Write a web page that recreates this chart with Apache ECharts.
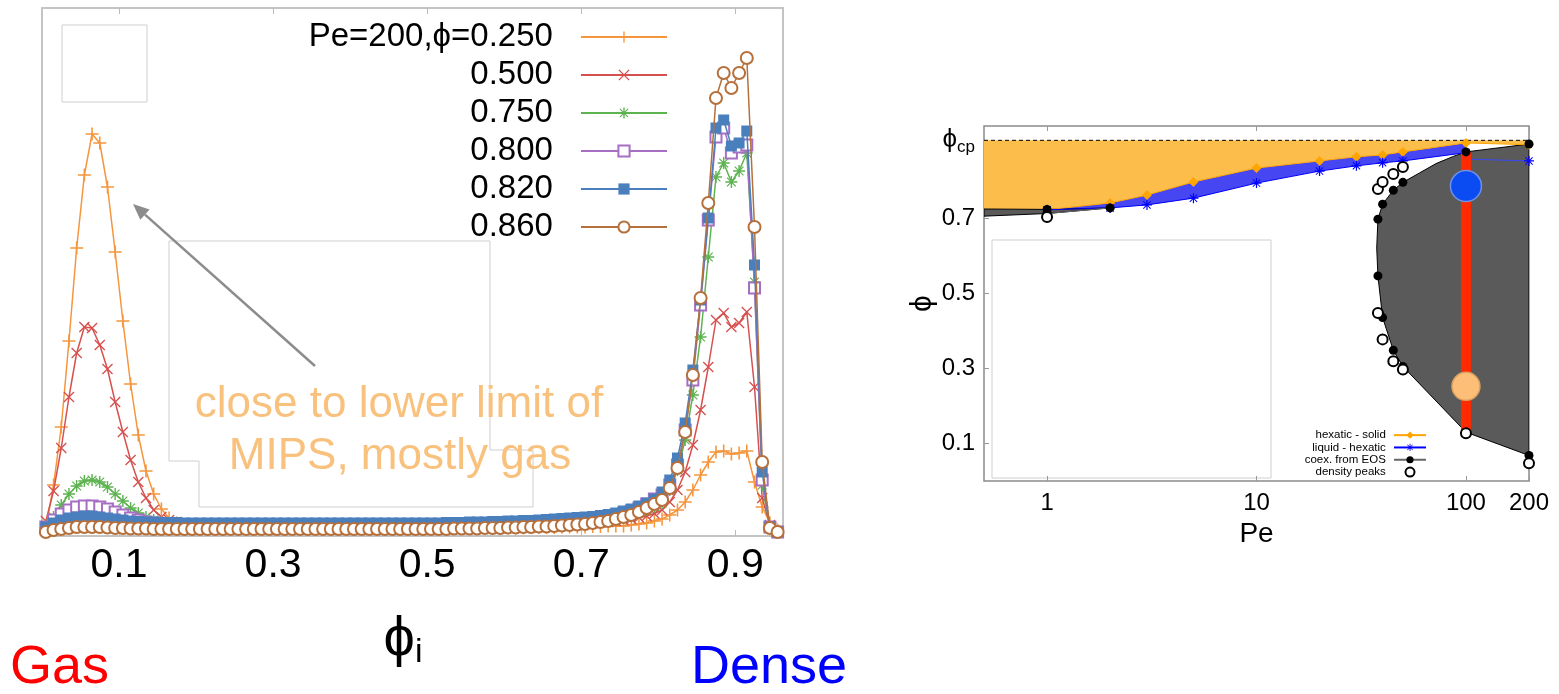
<!DOCTYPE html>
<html><head><meta charset="utf-8">
<script src="https://cdn.jsdelivr.net/npm/echarts@6/dist/echarts.min.js"></script>
<style>html,body{margin:0;padding:0;background:#fff}#c{width:1559px;height:694px}</style>
</head><body><div id="c"></div>
<script>
// ---------------- Left panel: distribution of local packing fraction ----------------
const phiBins = [0.005,0.015,0.025,0.035,0.045,0.055,0.065,0.075,0.085,0.095,
 0.105,0.115,0.125,0.135,0.145,0.155,0.165,0.175,0.185,0.195,
 0.205,0.215,0.225,0.235,0.245,0.255,0.265,0.275,0.285,0.295,
 0.305,0.315,0.325,0.335,0.345,0.355,0.365,0.375,0.385,0.395,
 0.405,0.415,0.425,0.435,0.445,0.455,0.465,0.475,0.485,0.495,
 0.505,0.515,0.525,0.535,0.545,0.555,0.565,0.575,0.585,0.595,
 0.605,0.615,0.625,0.635,0.645,0.655,0.665,0.675,0.685,0.695,
 0.705,0.715,0.725,0.735,0.745,0.755,0.765,0.775,0.785,0.795,
 0.805,0.815,0.825,0.835,0.845,0.855,0.865,0.875,0.885,0.895,
 0.905,0.915,0.925,0.935,0.945,0.955];
const seriesNames = ['Pe=200,ϕ=0.250','0.500','0.750','0.800','0.820','0.860'];
const p250 = [1.6,10.2,21.8,39.0,57.6,72.2,80.4,78.6,69.8,56.8,
 43.0,30.4,20.2,13.0,8.4,5.4,3.6,2.6,2.0,1.8,
 1.6,1.6,1.5,1.5,1.5,1.5,1.5,1.5,1.5,1.5,
 1.5,1.5,1.5,1.5,1.5,1.5,1.5,1.5,1.5,1.5,
 1.5,1.5,1.5,1.5,1.5,1.5,1.5,1.5,1.5,1.5,
 1.5,1.5,1.5,1.5,1.5,1.5,1.5,1.6,1.6,1.6,
 1.6,1.6,1.6,1.7,1.7,1.7,1.7,1.8,1.8,1.8,
 1.8,1.9,1.9,2.0,2.0,2.0,2.2,2.4,2.6,3.0,
 3.4,4.2,5.2,6.8,9.2,12.2,14.8,16.8,17.0,16.4,
 16.6,17.0,10.8,5.8,2.6,1.2];
const p500 = [3.0,9.0,17.6,27.8,36.6,41.8,41.6,38.2,33.4,26.8,
 20.8,15.2,10.8,7.6,5.2,3.8,3.2,2.8,2.5,2.3,
 2.2,2.1,2.0,2.0,2.0,1.9,1.9,1.9,1.9,1.9,
 1.9,1.9,1.9,1.9,1.9,1.9,1.9,1.9,1.9,1.9,
 1.9,1.9,1.9,1.9,1.9,1.9,1.9,1.9,1.9,1.9,
 1.9,1.9,1.9,2.0,2.0,2.0,2.0,2.0,2.1,2.1,
 2.1,2.1,2.2,2.2,2.2,2.3,2.3,2.4,2.4,2.5,
 2.5,2.6,2.7,2.8,3.0,3.2,3.4,3.7,4.0,4.5,
 5.2,6.8,9.2,12.8,18.2,25.2,33.8,43.2,44.6,41.8,
 42.6,44.8,29.8,7.6,2.2,0.8];
const p750 = [2.2,3.8,6.2,8.4,10.0,11.0,11.2,10.8,9.8,8.4,
 7.0,5.6,4.6,3.8,3.2,2.8,2.6,2.4,2.3,2.2,
 2.2,2.1,2.1,2.1,2.1,2.1,2.1,2.1,2.1,2.1,
 2.1,2.1,2.1,2.1,2.1,2.1,2.1,2.1,2.1,2.1,
 2.1,2.1,2.1,2.1,2.1,2.1,2.1,2.1,2.1,2.1,
 2.1,2.1,2.2,2.2,2.2,2.2,2.3,2.3,2.3,2.4,
 2.4,2.5,2.5,2.6,2.6,2.7,2.8,2.9,3.0,3.1,
 3.2,3.3,3.5,3.7,3.9,4.2,4.5,4.9,5.3,5.9,
 6.6,9.2,13.2,19.2,28.2,39.8,55.8,71.8,74.6,70.8,
 73.0,76.6,50.8,10.2,1.8,0.8];
const p800 = [1.8,3.2,4.4,5.2,5.8,6.0,6.0,5.8,5.4,4.8,
 4.2,3.6,3.2,2.8,2.6,2.4,2.3,2.3,2.2,2.2,
 2.2,2.2,2.2,2.2,2.2,2.2,2.2,2.2,2.2,2.2,
 2.2,2.2,2.2,2.2,2.2,2.2,2.2,2.2,2.2,2.2,
 2.2,2.2,2.2,2.2,2.2,2.2,2.2,2.2,2.2,2.2,
 2.2,2.2,2.3,2.3,2.3,2.4,2.4,2.4,2.5,2.5,
 2.6,2.6,2.7,2.7,2.8,2.9,3.0,3.1,3.2,3.3,
 3.4,3.5,3.7,3.9,4.2,4.6,5.0,5.6,6.4,7.4,
 8.2,10.2,14.2,21.2,31.2,46.2,63.2,79.8,81.6,76.6,
 77.8,78.2,49.6,11.2,1.8,0.8];
const p820 = [1.8,2.6,3.2,3.6,3.8,4.0,4.0,3.8,3.6,3.4,
 3.2,3.0,2.9,2.8,2.8,2.7,2.7,2.7,2.6,2.6,
 2.6,2.6,2.6,2.6,2.6,2.6,2.6,2.6,2.6,2.6,
 2.6,2.6,2.6,2.6,2.6,2.6,2.6,2.6,2.6,2.6,
 2.6,2.6,2.6,2.6,2.6,2.6,2.6,2.6,2.6,2.6,
 2.6,2.6,2.7,2.7,2.7,2.8,2.8,2.8,2.9,2.9,
 3.0,3.0,3.1,3.1,3.2,3.3,3.4,3.5,3.6,3.7,
 3.8,3.9,4.1,4.3,4.6,5.0,5.4,6.0,6.6,7.4,
 8.8,11.2,15.6,22.6,33.2,47.2,63.6,81.6,83.2,78.0,
 78.6,81.0,54.2,12.8,1.8,0.8];
const p860 = [0.8,1.2,1.4,1.6,1.8,1.8,1.8,1.8,1.7,1.6,
 1.6,1.5,1.5,1.5,1.4,1.4,1.4,1.4,1.4,1.4,
 1.4,1.4,1.4,1.4,1.4,1.4,1.4,1.4,1.4,1.4,
 1.4,1.4,1.4,1.4,1.4,1.4,1.4,1.4,1.4,1.4,
 1.4,1.4,1.4,1.4,1.4,1.4,1.4,1.4,1.4,1.4,
 1.4,1.4,1.4,1.5,1.5,1.5,1.5,1.6,1.6,1.6,
 1.7,1.7,1.8,1.8,1.9,1.9,2.0,2.1,2.2,2.3,
 2.4,2.6,2.8,3.0,3.4,3.8,4.2,4.8,5.6,6.4,
 7.2,9.6,13.6,20.8,32.2,47.6,66.6,87.6,92.6,89.6,
 92.6,95.6,61.8,14.8,1.6,0.8];
const leftTicks = [0.1,0.3,0.5,0.7,0.9];

// ---------------- Right panel: phase diagram ----------------
const phiCp = 0.9069;
const hsPe  = [1, 2, 3, 5, 10, 20, 30, 40, 50, 100, 200];
const hsPhi = [0.722, 0.740, 0.761, 0.796, 0.833, 0.852, 0.863, 0.868, 0.876, 0.900, 0.895];
const lhPe  = [1, 2, 3, 5, 10, 20, 30, 40, 50, 100];
const lhPhi = [0.722, 0.727, 0.735, 0.753, 0.793, 0.825, 0.839, 0.847, 0.852, 0.874];
const lhTailPe = [100, 200];
const lhTailPhi = [0.857, 0.852];
const coexLowPe  = [1, 1, 2];
const coexLowPhi = [0.723, 0.712, 0.727];
const coexPe  = [200, 100, 50, 45, 40, 38, 38, 40, 45, 50, 100, 200];
const coexPhi = [0.897, 0.876, 0.795, 0.774, 0.737, 0.697, 0.546, 0.435, 0.348, 0.305, 0.130, 0.068];
const peakPe  = [1, 38, 40, 45, 50, 38, 40, 45, 50, 100, 200];
const peakPhi = [0.703, 0.777, 0.796, 0.817, 0.836, 0.447, 0.377, 0.319, 0.297, 0.127, 0.047];
// boundary of the shaded regions
const lowBandPe  = [0.5, 1, 2, 1, 0.5];
const lowBandPhi = [0.724, 0.723, 0.727, 0.712, 0.705];
const mipsPe  = [200, 100, 87, 72, 60, 50, 45, 40, 38, 37.5, 38, 40, 45, 50, 100, 200];
const mipsPhi = [0.897, 0.876, 0.864, 0.845, 0.820, 0.795, 0.774, 0.737, 0.697, 0.620, 0.546, 0.435, 0.348, 0.305, 0.130, 0.068];
const barPe = [100, 100];
const barPhi = [0.130, 0.876];
const densePeak = [100, 0.785];
const gasPeak = [100, 0.252];
const peTicks = [1, 10, 100, 200];
const phiTicks = [0.1, 0.3, 0.5, 0.7, phiCp];

const FONT = "'Liberation Sans', Arial, 'DejaVu Sans', sans-serif";
const zip = (a, b) => a.map((v, i) => [v, b[i]]);

const PLUS = 'path://M0,4.4H10V5.6H0ZM4.4,0H5.6V10H4.4Z';
const CROSS = 'path://M0,0.85L0.85,0L10,9.15L9.15,10ZM9.15,0L10,0.85L0.85,10L0,9.15Z';
const STAR = 'path://M0,4.4H10V5.6H0ZM4.4,0H5.6V10H4.4ZM1,1.7L1.7,1L9,8.3L8.3,9ZM8.3,1L9,1.7L1.7,9L1,8.3Z';

const leftColors = ['#f5953c', '#d6504e', '#5db350', '#a66fc4', '#4a7fbd', '#b5703c'];
const leftData = [p250, p500, p750, p800, p820, p860];
const leftSymbols = [PLUS, CROSS, STAR, 'emptyRect', 'rect', 'emptyCircle'];
const leftSizes = [13, 11, 12, 11, 11, 12];

const series = [];
leftData.forEach((vals, k) => {
  const empty = leftSymbols[k].indexOf('empty') === 0;
  series.push({
    type: 'line', name: seriesNames[k], xAxisIndex: 0, yAxisIndex: 0,
    data: zip(phiBins, vals), symbol: leftSymbols[k], symbolSize: leftSizes[k],
    showAllSymbol: true, z: 3 + k,
    lineStyle: { color: leftColors[k], width: 1.5 },
    itemStyle: { color: leftColors[k], borderColor: leftColors[k], borderWidth: empty ? 1.3 : 0 }
  });
});

function region(pts, fill, stroke, z) {
  return {
    type: 'custom', coordinateSystem: 'cartesian2d', xAxisIndex: 2, yAxisIndex: 1,
    data: [[1, 0.5]], z: z, silent: true, clip: true,
    renderItem: (params, api) => ({
      type: 'polygon',
      shape: { points: pts.map(p => api.coord(p)) },
      style: { fill: fill, stroke: stroke || null, lineWidth: stroke ? 1 : 0 }
    })
  };
}
const hsTo100 = zip(hsPe, hsPhi).filter(p => p[0] <= 100);
const orangePts = [[0.5, phiCp], [200, phiCp]].concat(zip(hsPe, hsPhi).reverse(), [[0.5, lowBandPhi[0]]]);
const bluePts = hsTo100.concat(zip(lhPe, lhPhi).reverse());
series.push(region(orangePts, '#fcbd4a', null, 1));
series.push(region(bluePts, '#4646f2', null, 2));
series.push(region(zip(lowBandPe, lowBandPhi), '#5a5a5a', '#000', 2));
series.push(region(zip(mipsPe, mipsPhi), '#5a5a5a', '#000', 2));

series.push({
  type: 'line', xAxisIndex: 2, yAxisIndex: 1, data: [[0.5, phiCp], [200, phiCp]],
  symbol: 'none', z: 4, lineStyle: { color: '#000', width: 1, type: [4, 3] }
});
series.push({
  type: 'line', name: 'hexatic - solid', xAxisIndex: 2, yAxisIndex: 1, data: zip(hsPe, hsPhi),
  symbol: 'diamond', symbolSize: 10, z: 5,
  lineStyle: { color: '#ffa500', width: 1 }, itemStyle: { color: '#ffa500', borderWidth: 0 }
});
series.push({
  type: 'line', name: 'liquid - hexatic', xAxisIndex: 2, yAxisIndex: 1, data: zip(lhPe, lhPhi),
  symbol: STAR, symbolSize: 10, z: 5,
  lineStyle: { color: '#0000ff', width: 1 }, itemStyle: { color: '#0000ff', borderWidth: 0 }
});
series.push({
  type: 'line', xAxisIndex: 2, yAxisIndex: 1,
  data: [{ value: [lhTailPe[0], lhTailPhi[0]], symbol: 'none' }, [lhTailPe[1], lhTailPhi[1]]],
  symbol: STAR, symbolSize: 10, z: 5,
  lineStyle: { color: '#3344ff', width: 1, type: 'dotted' }, itemStyle: { color: '#0000ff', borderWidth: 0 }
});
series.push({
  type: 'line', xAxisIndex: 2, yAxisIndex: 1, data: zip(barPe, barPhi),
  symbol: 'none', z: 6, lineStyle: { color: '#ff2a00', width: 10, cap: 'butt' }
});
series.push({
  type: 'scatter', xAxisIndex: 2, yAxisIndex: 1, data: [densePeak], symbolSize: 31, z: 7,
  itemStyle: { color: '#0a4cf2', borderColor: '#6d92e8', borderWidth: 1.5, opacity: 1 }
});
series.push({
  type: 'scatter', xAxisIndex: 2, yAxisIndex: 1, data: [gasPeak], symbolSize: 28, z: 7,
  itemStyle: { color: '#fdbf78', borderColor: '#d9a060', borderWidth: 1.5, opacity: 1 }
});
series.push({
  type: 'line', name: 'coex. from EOS', xAxisIndex: 2, yAxisIndex: 1, data: zip(coexLowPe, coexLowPhi),
  symbol: 'circle', symbolSize: 9, z: 8,
  lineStyle: { color: '#666', width: 1 }, itemStyle: { color: '#000', borderWidth: 0 }
});
series.push({
  type: 'scatter', name: 'coex. from EOS', xAxisIndex: 2, yAxisIndex: 1, data: zip(coexPe, coexPhi),
  symbol: 'circle', symbolSize: 9, z: 8, itemStyle: { color: '#000', opacity: 1 }
});
series.push({
  type: 'scatter', name: 'density peaks', xAxisIndex: 2, yAxisIndex: 1, data: zip(peakPe, peakPhi),
  symbol: 'emptyCircle', symbolSize: 10, z: 9,
  itemStyle: { color: '#000', borderColor: '#000', borderWidth: 1, opacity: 1 }
});

const tickStyle = { color: '#bbb', width: 1 };
const option = {
  animation: false,
  backgroundColor: '#fff',
  textStyle: { fontFamily: FONT },
  grid: [
    { left: 42, top: 8, width: 741, height: 528, show: true, borderColor: '#c4c4c4', borderWidth: 2, backgroundColor: 'transparent' },
    { left: 984, top: 126, width: 545, height: 355, show: true, borderColor: '#8a8a8a', borderWidth: 1.5, backgroundColor: 'transparent' }
  ],
  xAxis: [
    { gridIndex: 0, type: 'value', min: 0, max: 0.962, axisLine: { show: false }, splitLine: { show: false },
      axisTick: { show: true, inside: true, length: 6, customValues: leftTicks, lineStyle: tickStyle },
      axisLabel: { customValues: leftTicks, fontSize: 41, color: '#000', margin: 9, fontFamily: FONT, formatter: v => v.toFixed(1) } },
    { gridIndex: 0, type: 'value', position: 'top', min: 0, max: 0.962, axisLine: { show: false }, splitLine: { show: false },
      axisTick: { show: true, inside: true, length: 6, customValues: leftTicks, lineStyle: tickStyle },
      axisLabel: { show: false } },
    { gridIndex: 1, type: 'log', logBase: 10, min: 0.5, max: 200, axisLine: { show: false }, splitLine: { show: false },
      axisTick: { show: true, inside: true, length: 5, customValues: peTicks, lineStyle: { color: '#999' } },
      axisLabel: { customValues: peTicks, fontSize: 24, color: '#000', margin: 10, fontFamily: FONT, formatter: v => String(Math.round(v)) },
      name: 'Pe', nameLocation: 'middle', nameGap: 33, nameTextStyle: { fontSize: 28, color: '#000', fontFamily: FONT } },
    { gridIndex: 1, type: 'log', logBase: 10, position: 'top', min: 0.5, max: 200, axisLine: { show: false }, splitLine: { show: false },
      axisTick: { show: true, inside: true, length: 5, customValues: peTicks, lineStyle: { color: '#999' } },
      axisLabel: { show: false } }
  ],
  yAxis: [
    { gridIndex: 0, type: 'value', min: 0, max: 105.6, show: false },
    { gridIndex: 1, type: 'value', min: 0, max: 0.945, axisLine: { show: false }, splitLine: { show: false },
      axisTick: { show: true, inside: true, length: 5, customValues: phiTicks.slice(0, 4), lineStyle: { color: '#999' } },
      axisLabel: { customValues: phiTicks, fontSize: 24, color: '#000', margin: 9, fontFamily: FONT,
        formatter: v => v > 0.9 ? '{p|ϕ}{s|cp}' : v.toFixed(1),
        rich: { p: { fontSize: 26, fontFamily: FONT, color: '#000' }, s: { fontSize: 17, fontFamily: FONT, color: '#000', padding: [14, 0, 0, 0] } } },
      name: 'ϕ', nameLocation: 'middle', nameRotate: 90, nameGap: 46, nameTextStyle: { fontSize: 30, color: '#000', fontFamily: FONT } }
  ],
  legend: [
    { data: seriesNames, orient: 'vertical', right: 886, top: 13, align: 'right', itemWidth: 86, itemHeight: 14, itemGap: 0,
      selectedMode: false, formatter: n => n + '\u2002\u2009',
      textStyle: { fontSize: 33, color: '#000', lineHeight: 38, fontFamily: FONT } },
    { data: ['hexatic - solid', 'liquid - hexatic', 'coex. from EOS', 'density peaks'], orient: 'vertical', right: 127, top: 424,
      align: 'right', itemWidth: 32, itemHeight: 9, itemGap: 0, selectedMode: false, formatter: n => n + ' ',
      textStyle: { fontSize: 11.5, color: '#000', lineHeight: 12.3, fontFamily: FONT } }
  ],
  graphic: [
    { type: 'rect', shape: { x: 62, y: 25, width: 85, height: 77 }, style: { fill: 'none', stroke: '#cfcfcf', lineWidth: 1 }, z: 0 },
    { type: 'polygon', shape: { points: [[169, 241], [490, 241], [490, 450], [533, 450], [533, 507], [199, 507], [199, 461], [169, 461]] },
      style: { fill: 'none', stroke: '#cfcfcf', lineWidth: 1 }, z: 0 },
    { type: 'rect', shape: { x: 992, y: 240, width: 279, height: 238 }, style: { fill: 'none', stroke: '#cfcfcf', lineWidth: 1 }, z: 0 },
    { type: 'line', shape: { x1: 315, y1: 366, x2: 145, y2: 214.6 }, style: { stroke: '#8c8c8c', lineWidth: 2.5 }, z: 10 },
    { type: 'polygon', shape: { points: [[133, 204], [149.6, 209.4], [140.3, 219.8]] }, style: { fill: '#8c8c8c' }, z: 10 },
    { type: 'text', x: 399, y: 405, style: { text: 'close to lower limit of', fill: '#f8c27e', font: '44px ' + FONT, textAlign: 'center', textVerticalAlign: 'middle' }, z: 10 },
    { type: 'text', x: 400, y: 457, style: { text: 'MIPS, mostly gas', fill: '#f8c27e', font: '44px ' + FONT, textAlign: 'center', textVerticalAlign: 'middle' }, z: 10 },
    { type: 'text', x: 403, y: 640, style: { text: '{a|ϕ}{b|i}', textAlign: 'center', textVerticalAlign: 'middle',
      rich: { a: { fontSize: 56, fontFamily: FONT, fill: '#000' }, b: { fontSize: 34, fontFamily: FONT, fill: '#000', padding: [26, 0, 0, 0] } } }, z: 10 },
    { type: 'text', x: 10, y: 668, style: { text: 'Gas', fill: '#ff0000', font: '54px ' + FONT, textAlign: 'left', textVerticalAlign: 'middle' }, z: 10 },
    { type: 'text', x: 691, y: 668, style: { text: 'Dense', fill: '#0000ff', font: '54px ' + FONT, textAlign: 'left', textVerticalAlign: 'middle' }, z: 10 }
  ],
  series: series
};

const chart = echarts.init(document.getElementById('c'), null, { renderer: 'canvas' });
chart.setOption(option);
</script>
</body></html>
